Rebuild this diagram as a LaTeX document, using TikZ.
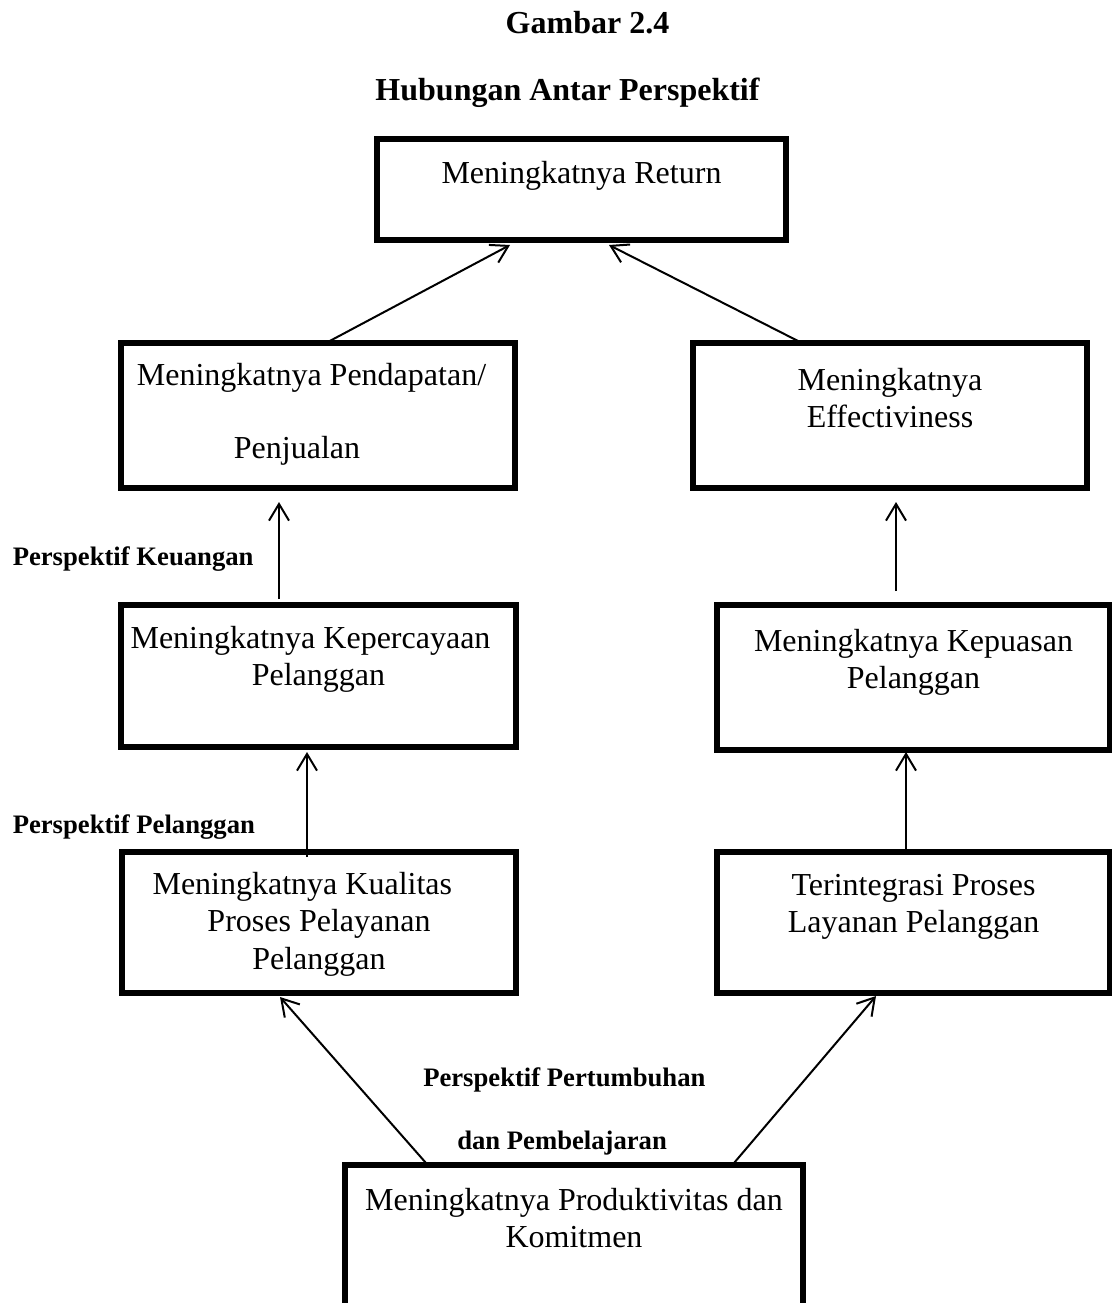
\documentclass[tikz,border=0pt]{standalone}
\usepackage{fontspec}
\setmainfont{Liberation Serif}
\usetikzlibrary{arrows.meta,positioning,calc}

\begin{document}
\begin{tikzpicture}[
x=0.75pt, y=-0.75pt,
box/.style={draw, line width=3.8pt, outer sep=0pt, inner sep=0pt},
boxtext/.style={font=\fontsize{24}{28}\selectfont, align=center, inner sep=0pt},
heading/.style={font=\bfseries\fontsize{24}{28}\selectfont, anchor=base, inner sep=0pt},
persp/.style={font=\bfseries\fontsize{20}{24}\selectfont, anchor=base west, inner sep=0pt},
arrow/.style={-{Straight Barb[length=12.5pt,width=15pt]}, line width=1.5pt}
]
\useasboundingbox (0,0) rectangle (1112,1303);
\clip (0,0) rectangle (1112,1303);
\fill[white] (0,0) rectangle (1112,1303);

\node[heading] (fig) at (587.5,33) {Gambar 2.4};
\node[heading] (title) at (567.5,100) {Hubungan Antar Perspektif};

\node[box, minimum width=306.75pt, minimum height=75.75pt] (ret) at (581.5,189.5) {};
\node[box, minimum width=295.5pt, minimum height=108.75pt] (pend) at (318,415.5) {};
\node[box, minimum width=295.5pt, minimum height=108.75pt] (eff) at (890,415.5) {};
\node[box, minimum width=296.25pt, minimum height=106.5pt] (perc) at (318.5,676) {};
\node[box, minimum width=294.75pt, minimum height=108.75pt] (puas) at (913.5,677.5) {};
\node[box, minimum width=295.5pt, minimum height=105.75pt] (kual) at (319,922.5) {};
\node[box, minimum width=294.75pt, minimum height=105.75pt] (integ) at (913.5,922.5) {};
\node[box, minimum width=343.5pt, minimum height=146.25pt] (prod) at (574,1262.5) {};

\node[boxtext, below=16.5pt of ret.north] (rettxt) {Meningkatnya Return};
\node[boxtext, below=15pt of pend.north] (pendtxt) {Meningkatnya Pendapatan/\hspace*{9.75pt}\\[27pt]Penjualan\hspace*{31.5pt}};
\node[boxtext, below=18.4pt of eff.north] (efftxt) {Meningkatnya\\Effectiviness};
\node[boxtext, below=15.75pt of perc.north] (perctxt) {Meningkatnya Kepercayaan\hspace*{12pt}\\Pelanggan};
\node[boxtext, below=18pt of puas.north] (puastxt) {Meningkatnya Kepuasan\\Pelanggan};
\node[boxtext, below=15pt of kual.north] (kualtxt) {Meningkatnya Kualitas\hspace*{25pt}\\Proses Pelayanan\\Pelanggan};
\node[boxtext, below=16.5pt of integ.north] (integtxt) {Terintegrasi Proses\\Layanan Pelanggan};
\node[boxtext, below=17.25pt of prod.north] (prodtxt) {Meningkatnya Produktivitas dan\\Komitmen};

\node[persp] (keu) at (12.5,565) {Perspektif Keuangan};
\node[persp] (pel) at (12.5,833) {Perspektif Pelanggan};
\node[persp] (tum) at (423,1086) {Perspektif Pertumbuhan};
\node[persp] (bel) at (457,1149) {dan Pembelajaran};

\draw[arrow] ($(pend.north)+(8,0)$) -- ($(ret.south)+(-71.5,5)$);
\draw[arrow] ($(eff.north)+(-88,0)$) -- ($(ret.south)+(27.5,5)$);
\draw[arrow] ($(perc.north)+(-39.5,-6)$) -- ($(pend.south)+(-39,14)$);
\draw[arrow] ($(puas.north)+(-17.5,-14)$) -- ($(eff.south)+(6,14)$);
\draw[arrow] ($(kual.north)+(-12,5)$) -- ($(perc.south)+(-11.5,5)$);
\draw[arrow] ($(integ.north)+(-7.5,-3)$) -- ($(puas.south)+(-7.5,2)$);
\draw[arrow] ($(prod.north)+(-148,-2)$) -- ($(kual.south)+(-39,4)$);
\draw[arrow] ($(prod.north)+(160,-2)$) -- ($(integ.south)+(-37.5,3)$);
\end{tikzpicture}
\end{document}
